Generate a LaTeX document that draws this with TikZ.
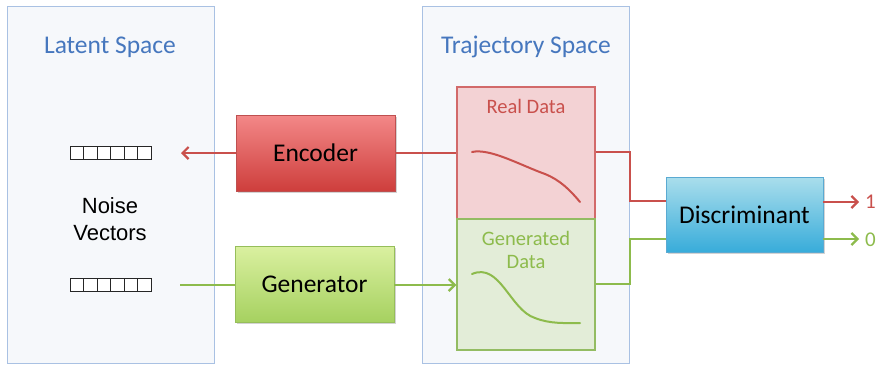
\documentclass[tikz,border=0pt]{standalone}
\usepackage{fontspec}
\setmainfont{Carlito}
\newfontfamily\helv{Liberation Sans}
\usetikzlibrary{arrows.meta,shadows}
\definecolor{titleblue}{HTML}{4677BE}
\definecolor{panelfill}{HTML}{F6F8FB}
\definecolor{panelline}{HTML}{A9C1E3}
\definecolor{redline}{HTML}{C9504C}
\definecolor{greenline}{HTML}{8DBB4C}
\definecolor{realfill}{HTML}{F3D2D4}
\definecolor{realedge}{HTML}{D26A6A}
\definecolor{genfill}{HTML}{E3EDD8}
\definecolor{genedge}{HTML}{93BC62}
\tikzset{
  panel/.style={draw=panelline, fill=panelfill, line width=1pt},
  title/.style={text=titleblue, font=\fontsize{25.5}{30}\selectfont},
  block/.style={minimum width=159pt, minimum height=76pt, font=\fontsize{25.5}{30}\selectfont,
    drop shadow={shadow xshift=1.5pt, shadow yshift=-1.5pt, opacity=0.35}},
  redarrow/.style={draw=redline, line width=2.2pt, -{Straight Barb[length=6pt,width=12pt]}},
  greenarrow/.style={draw=greenline, line width=2.2pt, -{Straight Barb[length=6pt,width=12pt]}},
  redwire/.style={draw=redline, line width=2.2pt},
  greenwire/.style={draw=greenline, line width=2.2pt},
  cell/.style={draw=black!85, line width=0.8pt, minimum width=13.5pt, minimum height=13pt, inner sep=0pt, fill=white},
}
\begin{document}
\begin{tikzpicture}[x=1pt,y=-1pt]
\useasboundingbox (0,0) rectangle (878,365);
% panels
\node[panel, minimum width=207pt, minimum height=357pt, inner sep=0pt] (latent) at (110.5,185) {};
\node[panel, minimum width=207pt, minimum height=357pt, inner sep=0pt] (traj) at (525.5,185) {};
\node[title] (lt) at (110,47) {Latent Space};
\node[title] (tt) at (526,47) {Trajectory Space};
% noise vectors
\foreach \i in {0,...,5}{
  \node[cell] (a\i) at ({76.75+13.5*\i},153) {};
  \node[cell] (b\i) at ({76.75+13.5*\i},285) {};
}
\node[font=\helv\fontsize{22}{27}\selectfont, align=center, text=black] (nv) at (110,219) {Noise\\Vectors};
% blocks
\node[block, top color={rgb,255:red,243;green,136;blue,136}, bottom color={rgb,255:red,206;green,62;blue,60}, draw={rgb,255:red,190;green,80;blue,80}, line width=0.5pt] (enc) at (315.5,153) {Encoder};
\node[block, top color={rgb,255:red,218;green,240;blue,160}, bottom color={rgb,255:red,166;green,209;blue,96}, draw={rgb,255:red,150;green,190;blue,90}, line width=0.5pt] (gen) at (314.5,284) {Generator};
\node[block, minimum width=157pt, minimum height=75pt, top color={rgb,255:red,170;green,222;blue,236}, bottom color={rgb,255:red,56;green,172;blue,218}, draw={rgb,255:red,90;green,170;blue,210}, line width=0.5pt] (disc) at (744.5,214.5) {Discriminant};
% data boxes
\node[draw=realedge, fill=realfill, line width=1.4pt, minimum width=138pt, minimum height=132pt, inner sep=0pt] (real) at (526,153) {};
\node[draw=genedge, fill=genfill, line width=1.4pt, minimum width=138pt, minimum height=131pt, inner sep=0pt] (gdat) at (526,284.5) {};
\node[text=redline, font=\fontsize{20.5}{24}\selectfont] (rl) at (526,106) {Real Data};
\node[text=greenline, font=\fontsize{20.5}{23.5}\selectfont, align=center] (gl) at (526,250) {Generated\\Data};
% curves
\draw[redline, line width=2pt, line cap=round] (472,152) .. controls (490,148) and (520,165) .. (545,174) .. controls (560,180) and (570,190) .. (580,202);
\draw[greenline, line width=2pt, line cap=round] (472,274) .. controls (500,262) and (510,310) .. (535,318) .. controls (550,324) and (565,323) .. (580,323);
% connectors
\coordinate (encout) at (181,153);
\coordinate (genin) at (180,285);
\draw[redarrow] (enc.west) -- (encout);
\draw[redwire] (enc.east) -- (real.west |- enc.east);
\draw[greenwire] (genin) -- (gen.west |- genin);
\draw[greenarrow] (gen.east |- genin) -- (gdat.west |- genin);
\draw[redwire] (real.east |- 0,152) -- (630,152) -- (630,201) -- (disc.west |- 0,201);
\draw[greenwire] (gdat.east |- 0,284) -- (630,284) -- (630,239) -- (disc.west |- 0,239);
\coordinate (o1) at (859,202);
\coordinate (o0) at (859,239);
\draw[redarrow] (disc.east |- o1) -- (o1);
\draw[greenarrow] (disc.east |- o0) -- (o0);
\node[text=redline, font=\fontsize{21}{24}\selectfont, anchor=west, inner sep=1pt] (one) at (864,202) {1};
\node[text=greenline, font=\fontsize{21}{24}\selectfont, anchor=west, inner sep=1pt] (zero) at (864,240) {0};
\end{tikzpicture}
\end{document}
